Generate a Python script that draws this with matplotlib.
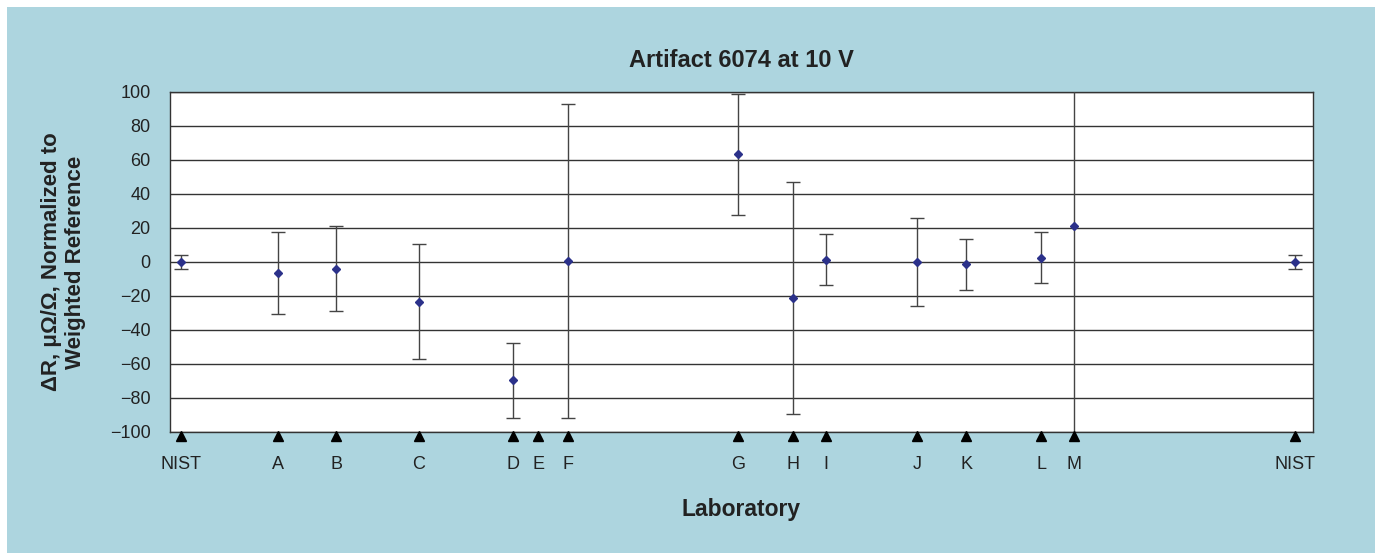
import numpy as np
import matplotlib.pyplot as plt
from matplotlib.patches import Rectangle
from matplotlib.transforms import ScaledTranslation

plt.rcParams['font.family'] = ['Liberation Sans', 'DejaVu Sans']

# laboratories in order of measurement (position along the time axis)
labs = ["NIST", "A", "B", "C", "D", "E", "F", "G", "H", "I", "J", "K", "L", "M", "NIST"]
pos = [1.1, 10.8, 16.6, 24.9, 34.3, 36.8, 39.8, 56.8, 62.3, 65.6, 74.7, 79.6, 87.1, 90.4, 112.5]
# deviation and uncertainty, E reported nothing at 10 V
dev = [0, -6.3, -3.9, -23.3, -69.6, np.nan, 0.8, 63.3, -21.4, 1.4, 0.0, -1.4, 2.4, 21.4, 0]
unc = [4, 24.2, 25.1, 33.8, 22.0, np.nan, 92.4, 35.8, 68.2, 14.9, 26.0, 15.1, 15.0, 200, 4]

pos = np.array(pos)
dev = np.array(dev)
unc = np.array(unc)
ok = ~np.isnan(dev)

fig = plt.figure(figsize=(13.8, 5.53), dpi=100, facecolor="white")
# light blue panel behind everything
fig.patches.append(Rectangle((7 / 1380, 0), 1368 / 1380, 546 / 553, transform=fig.transFigure,
                             facecolor="#add5df", edgecolor="none", zorder=-10))

ax = fig.add_axes([170 / 1380, 121 / 553, 1143 / 1380, 340 / 553])
ax.set_facecolor("white")

ax.errorbar(pos[ok], dev[ok], yerr=unc[ok], fmt="none", ecolor="#444444",
            elinewidth=1.0, capsize=5, capthick=1.0, zorder=3)
ax.plot(pos[ok], dev[ok], "D", color="#2b318a", markersize=4.5, zorder=4)

# triangles under the axis for every lab
shift = ScaledTranslation(0, -4 / 100, fig.dpi_scale_trans)
ax.plot(pos, np.zeros(len(pos)), "^", color="black", markersize=6.5,
        transform=ax.get_xaxis_transform() + shift, clip_on=False, zorder=5)

ax.set_xlim(0, 114.3)
ax.set_ylim(-100, 100)
ax.set_yticks(np.arange(-100, 101, 20))
ax.set_xticks(pos)
ax.set_xticklabels(labs)
ax.tick_params(axis="both", length=0, labelsize=13, colors="#222222")
ax.tick_params(axis="x", pad=17)
ax.tick_params(axis="y", pad=14)
ax.grid(axis="y", color="#333333", linewidth=1.0)
ax.set_axisbelow(True)
for s in ax.spines.values():
    s.set_color("#333333")
    s.set_linewidth(1.0)

ax.set_title("Artifact 6074 at 10 V", fontsize=17, fontweight="bold", color="#222222", pad=18)
ax.set_xlabel("Laboratory", fontsize=16.5, fontweight="bold", color="#222222", labelpad=18)
ax.set_ylabel("ΔR, μΩ/Ω, Normalized to\nWeighted Reference", fontsize=16, fontweight="bold",
              color="#222222", labelpad=17, linespacing=1.2)

fig.savefig("out.png", dpi=100, facecolor=fig.get_facecolor())
